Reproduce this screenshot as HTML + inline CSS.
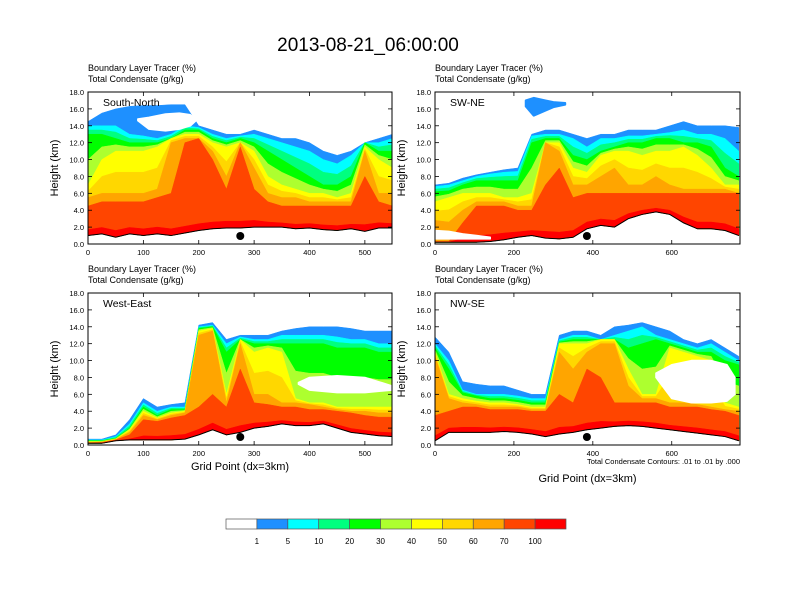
<!DOCTYPE html>
<html><head><meta charset="utf-8">
<style>
html,body{margin:0;padding:0;background:#fff;}
svg{display:block;font-family:"Liberation Sans",sans-serif;}
</style></head>
<body>
<svg id="fig" width="792" height="612" viewBox="0 0 792 612" xmlns="http://www.w3.org/2000/svg">
<text x="368" y="51" font-size="19" text-anchor="middle">2013-08-21_06:00:00</text>
</svg>
<script>
// ---------- Panel 1: South-North ----------
const p1X = [0,25,50,75,100,125,150,175,200,225,250,275,300,325,350,375,400,425,450,475,500,525,550];
const p1Ground = [1.0,1.2,0.8,1.2,1.0,1.2,1.0,1.3,1.6,1.8,1.9,1.9,2.0,2.0,2.0,1.8,1.9,1.7,1.6,1.8,1.5,1.9,1.9];
const p1Blue   = [14.5,15.5,16.0,16.3,16.4,16.4,16.5,16.5,14.0,13.5,13.0,13.0,13.5,13.0,12.5,12.5,12.0,11.0,10.5,11.0,12.0,12.5,13.0];
const p1Cyan   = [14,14,14,13,12.8,12.5,13.0,14.0,13.8,13,12.5,12.8,13,12.5,12,11.5,11,10,9.5,10.5,12,12,12.5];
const p1Green  = [13,13,12.5,12,12,12,12.5,13.5,13.5,12.5,12,12.5,12,11,10,9,8,7,7,8,12,11,11];
const p1Yellow = [7,10,11,11,11,11.5,12.5,13,13,12,11.5,12,11,8,7,6.5,6,6,5.5,6,11.5,10,9];
const p1Orange = [5.5,6,6,6,6,6.5,12,12.5,12.5,11,8,12,9,6,5.5,5.5,5,5,5,5,11,6,6];
const p1Red    = [4.5,5,5,5,5,5.5,6,12,12.5,10,6.5,11.5,6.5,5,4.5,4.5,4.5,4.5,4.5,4.5,8,5,4.5];
const p1HoleX = [90,110,140,165,185,195];
const p1HoleBot = [14.6,13.6,13.4,13.6,14.0,14.6];
const p1HoleTop = [14.8,15.0,15.4,15.5,15.3,14.8];

// ---------- Panel 2: SW-NE ----------
const p2X = [0,35,70,105,140,175,210,245,280,315,350,385,420,455,490,525,560,595,630,665,700,735,770];
const p2Ground = [0.2,0.2,0.2,0.2,0.3,0.5,0.8,1.0,0.7,0.6,0.8,1.8,2.2,2.0,3.0,3.5,3.8,3.5,2.5,1.8,1.8,1.6,1.0];
const p2Blue   = [7,7.2,7.8,8.2,8.5,8.8,9.0,13,13.5,13.5,13.0,12.5,13,13,13.5,13.5,13.5,14,14.5,14,14,14,13.8];
const p2Cyan   = [6.8,7,7.5,8,8.3,8.5,8.6,12.8,13,13,12.5,11.5,12.5,12.5,12.8,12.8,13,13.2,13.5,13,13,12.5,11];
const p2Green  = [6.2,6.3,7,7.5,7.5,7.5,7.5,12,12.5,12.5,10.5,10,11,11.5,12,12,12.5,12.5,12,12,11.5,9,8];
const p2Yellow = [5,5.5,6,6,6,5.5,5.5,6,12,12,9,8.5,10.5,11,11,10.5,11,11,11.5,10.5,9,7,7];
const p2Orange = [2.8,2.6,4,5,5,5,4.5,4.5,12,11,7,7,8,9,7,7,8,7,6.5,6.5,6.5,6.5,6];
const p2Red    = [0.3,0.3,2.5,4.5,4.5,4.5,4,4,7,9,5.5,6,6,6,6,6,6,6,6,6,6,6,6];
const p2HoleX = [0,35,70,105,140];
const p2HoleBot = [0.6,0.6,0.6,0.6,0.6];
const p2HoleTop = [1.6,1.5,1.2,1.0,0.8];
const p2AnvilX = [230,250,280,300,330];
const p2AnvilBot = [16.3,15.2,15.8,16.2,16.5];
const p2AnvilTop = [17.0,17.3,17.0,16.8,16.7];

// ---------- Panel 3: West-East ----------
const p3X = [0,25,50,75,100,125,150,175,200,225,250,275,300,325,350,375,400,425,450,475,500,525,550];
const p3Ground = [0.2,0.2,0.5,0.6,0.6,0.6,0.6,0.7,1.2,1.8,1.2,1.5,2.0,2.2,2.5,2.3,2.3,2.5,2.0,1.5,1.3,1.1,1.0];
const p3Blue   = [0.7,0.7,1.2,3.0,5.5,4.5,4.8,5.0,14.2,14.5,12.5,13.0,13.0,13.0,13.5,13.8,14.0,14.0,14.0,13.8,13.5,13.5,13.5];
const p3Cyan   = [0.6,0.6,1.0,2.5,5,4,4.5,4.5,14,14.2,12,12.8,12.5,12.5,13,13,13,13,12.8,12.5,12.5,12,12];
const p3Green  = [0.5,0.5,0.8,2,4.5,3.5,4.2,4.2,13.8,14,11,12.5,12,12,12,12,12,12,11.5,11.5,11.5,11,11];
const p3Yellow = [0.4,0.4,0.7,1.8,4,3.2,3.8,4,13.5,13.8,6,12.5,11,11.5,11,5.5,5,5,4.5,4.5,4.5,4.5,4.5];
const p3Orange = [0.3,0.35,0.65,1.5,3.5,3,3.5,3.8,13,13.5,5,12,6,6,5,5,4.8,4.5,4.2,4,4,3.8,3.8];
const p3Red    = [0.25,0.3,0.6,1.2,3.0,2.8,3.2,3.5,4.5,6,4.5,9,5,4.8,4.5,4.5,4.2,4.2,4,3.8,3.5,3.3,3.3];
const p3HoleX = [380,400,450,500,549];
const p3HoleBot = [7.2,6.5,6.2,6.2,6.5];
const p3HoleTop = [7.4,8.0,8.2,8.0,7.0];

// ---------- Panel 4: NW-SE ----------
const p4X = [0,35,70,105,140,175,210,245,280,315,350,385,420,455,490,525,560,595,630,665,700,735,770];
const p4Ground = [0.5,1.5,1.5,1.5,1.5,1.6,1.5,1.3,1.0,1.3,1.5,1.8,2.0,2.2,2.3,2.2,2.0,1.8,1.6,1.4,1.2,1.0,0.5];
const p4Blue   = [12.8,11.0,7.5,7.2,7,7,6.5,6,6,13,13.5,13.5,13,14,14.2,14.5,14,13.5,12.5,12,12.5,11.5,10.5];
const p4Cyan   = [12,10.0,6.5,6,6,6,5.8,5.5,5.5,12.5,13,13,12.5,13,13.5,14,13,12.5,12,11.5,12,11,10];
const p4Green  = [11.5,9.0,6.2,5.8,5.5,5.5,5.3,5,5,12.2,12.5,12.5,12.5,12.5,11.5,12,12.5,12,11.5,11,11,10,9.5];
const p4Yellow = [11,6,5.5,5.2,5,5,4.8,4.5,4.5,12,12,12,12.5,12.5,9,6,6,11.5,11,10.5,10,5,4.5];
const p4Orange = [10.5,5.5,5,4.8,4.5,4.5,4.5,4.2,4.2,11,9,11,12,12,7,5.5,5.5,5,5,4.8,4.5,4.2,4];
const p4Red    = [3.5,4,4.5,4.5,4.2,4.2,4.2,4,4,6,5,9,8,5,5,5,5,4.5,4.5,4.5,4.2,4,3.5];
const p4HoleX = [560,600,650,700,740,760];
const p4HoleBot = [8,5.5,5,5,5.2,6];
const p4HoleTop = [8.5,9.5,10,10,9.5,8];

// ---------- Colorbar ----------
const cbLabels = ["1","5","10","20","30","40","50","60","70","100"];
const cbColors = ["#FFFFFF","#1E90FF","#00FFFF","#00FF7F","#00FF00","#ADFF2F","#FFFF00","#FFD700","#FFA500","#FF4500","#FF0000"];
const yTicks = [0,2,4,6,8,10,12,14,16,18];
const xTicksA = [0,100,200,300,400,500];
const xTicksB = [0,200,400,600];

const NS = "http://www.w3.org/2000/svg";
const svg = document.getElementById("fig");
function mk(tag, attrs, parent){
  const e = document.createElementNS(NS, tag);
  for (const k in attrs) e.setAttribute(k, attrs[k]);
  (parent||svg).appendChild(e);
  return e;
}

const panels = [
  {name:"south-north", label:"South-North", x0:88, y0:92, w:304, h:152, xmax:549, ticks:xTicksA,
   X:p1X, G:p1Ground, B:p1Blue, C:p1Cyan, Gr:p1Green, Y:p1Yellow, O:p1Orange, R:p1Red, HX:p1HoleX, HB:p1HoleBot, HT:p1HoleTop, dot:275, xt:false},
  {name:"sw-ne", label:"SW-NE", x0:435, y0:92, w:305, h:152, xmax:773, ticks:xTicksB,
   X:p2X, G:p2Ground, B:p2Blue, C:p2Cyan, Gr:p2Green, Y:p2Yellow, O:p2Orange, R:p2Red, HX:p2HoleX, HB:p2HoleBot, HT:p2HoleTop, dot:385, xt:false,
   AX:p2AnvilX, AB:p2AnvilBot, AT:p2AnvilTop},
  {name:"west-east", label:"West-East", x0:88, y0:293, w:304, h:152, xmax:549, ticks:xTicksA,
   X:p3X, G:p3Ground, B:p3Blue, C:p3Cyan, Gr:p3Green, Y:p3Yellow, O:p3Orange, R:p3Red, HX:p3HoleX, HB:p3HoleBot, HT:p3HoleTop, dot:275, xt:true},
  {name:"nw-se", label:"NW-SE", x0:435, y0:293, w:305, h:152, xmax:773, ticks:xTicksB,
   X:p4X, G:p4Ground, B:p4Blue, C:p4Cyan, Gr:p4Green, Y:p4Yellow, O:p4Orange, R:p4Red, HX:p4HoleX, HB:p4HoleBot, HT:p4HoleTop, dot:385, xt:true},
];

panels.forEach((p, pi) => {
  const g = mk("g", {});
  
  
  const sx = v => p.x0 + v / p.xmax * p.w;
  const sy = v => p.y0 + p.h - v / 18 * p.h;
  const clipId = "clip" + pi;
  const cp = mk("clipPath", {id: clipId}, g);
  mk("rect", {x:p.x0, y:p.y0, width:p.w, height:p.h}, cp);
  const area = mk("g", {"clip-path":"url(#" + clipId + ")"}, g);
  
  

  function band(tops, color, nm){
    let d = "M" + sx(p.X[0]) + "," + sy(p.G[0]);
    for (let i = 0; i < p.X.length; i++) d += " L" + sx(p.X[i]) + "," + sy(Math.max(tops[i], p.G[i]));
    for (let i = p.X.length - 1; i >= 0; i--) d += " L" + sx(p.X[i]) + "," + sy(p.G[i]);
    const el = mk("path", {d: d + "Z", fill: color, stroke: color, "stroke-width": 0.5, "stroke-linejoin":"round"}, area);
    
    
  }
  const mid = (a, b) => a.map((v, i) => (v + b[i]) / 2);
  const deep = p.G.map((v, i) => v + Math.min(0.8, (p.R[i] - v) * 0.2));
  band(p.B, "#1E90FF", "band-1-5");
  band(p.C, "#00FFFF", "band-5-10");
  band(mid(p.C, p.Gr), "#00FF7F", "band-10-20");
  band(p.Gr, "#00FF00", "band-20-30");
  band(mid(p.Gr, p.Y), "#ADFF2F", "band-30-40");
  band(p.Y, "#FFFF00", "band-40-50");
  band(mid(p.Y, p.O), "#FFD700", "band-50-60");
  band(p.O, "#FFA500", "band-60-70");
  band(p.R, "#FF4500", "band-70-100");
  band(deep, "#FF0000", "band-100");

  if (p.HX.length) {
    let d = "M" + sx(p.HX[0]) + "," + sy(p.HB[0]);
    for (let i = 1; i < p.HX.length; i++) d += " L" + sx(p.HX[i]) + "," + sy(p.HB[i]);
    for (let i = p.HX.length - 1; i >= 0; i--) d += " L" + sx(p.HX[i]) + "," + sy(p.HT[i]);
    const hole = mk("path", {d: d + "Z", fill: "#fff", stroke:"#fff", "stroke-width":1.5, "stroke-linejoin":"round"}, area);
    
    
  }
  if (p.AX) {
    let d = "M" + sx(p.AX[0]) + "," + sy(p.AB[0]);
    for (let i = 1; i < p.AX.length; i++) d += " L" + sx(p.AX[i]) + "," + sy(p.AB[i]);
    for (let i = p.AX.length - 1; i >= 0; i--) d += " L" + sx(p.AX[i]) + "," + sy(p.AT[i]);
    const an = mk("path", {d: d + "Z", fill: "#1E90FF", stroke:"#1E90FF", "stroke-width":2, "stroke-linejoin":"round"}, area);
    
    
  }
  let td = "";
  for (let i = 0; i < p.X.length; i++) td += (i ? " L" : "M") + sx(p.X[i]) + "," + sy(p.G[i]);
  const terr = mk("path", {d: td, fill: "none", stroke: "#000", "stroke-width": 1}, area);
  
  

  const dot = mk("circle", {cx: sx(p.dot), cy: p.y0 + p.h - 8, r: 4, fill: "#000"}, g);
  
  

  const fr = mk("rect", {x:p.x0, y:p.y0, width:p.w, height:p.h, fill:"none", stroke:"#000", "stroke-width":1}, g);
  
  

  yTicks.forEach(t => {
    const y = sy(t);
    mk("line", {x1:p.x0, x2:p.x0+4, y1:y, y2:y, stroke:"#000", "stroke-width":0.8}, g);
    mk("line", {x1:p.x0+p.w, x2:p.x0+p.w-4, y1:y, y2:y, stroke:"#000", "stroke-width":0.8}, g);
    const tl = mk("text", {x:p.x0-4, y:y+3, "font-size":7.5, "text-anchor":"end"}, g);
    tl.textContent = t.toFixed(1);
    
    
  });
  p.ticks.forEach(t => {
    const x = sx(t);
    mk("line", {x1:x, x2:x, y1:p.y0+p.h, y2:p.y0+p.h-4, stroke:"#000", "stroke-width":0.8}, g);
    mk("line", {x1:x, x2:x, y1:p.y0, y2:p.y0+4, stroke:"#000", "stroke-width":0.8}, g);
    const tl = mk("text", {x:x, y:p.y0+p.h+11, "font-size":7.5, "text-anchor":"middle"}, g);
    tl.textContent = t;
    
    
  });
  const yt = mk("text", {x:0, y:0, "font-size":11, "text-anchor":"middle", transform:"translate(" + (p.x0-30) + "," + (p.y0+p.h/2) + ") rotate(-90)"}, g);
  yt.textContent = "Height (km)";
  
  
  const h1 = mk("text", {x:p.x0, y:p.y0-21, "font-size":9}, g);
  h1.textContent = "Boundary Layer Tracer   (%)";
  
  
  const h2 = mk("text", {x:p.x0, y:p.y0-10, "font-size":9}, g);
  h2.textContent = "Total Condensate   (g/kg)";
  
  
  const pl = mk("text", {x:p.x0+15, y:p.y0+14, "font-size":10.5}, g);
  pl.textContent = p.label;
  
  
  if (p.xt) {
    const xt = mk("text", {x:p.x0+p.w/2, y: pi === 3 ? p.y0+p.h+37 : p.y0+p.h+25, "font-size":11, "text-anchor":"middle"}, g);
    xt.textContent = "Grid Point (dx=3km)";
    
    
  }
  if (pi === 3) {
    const ct = mk("text", {x:p.x0+p.w, y:p.y0+p.h+19, "font-size":7.5, "text-anchor":"end"}, g);
    ct.textContent = "Total Condensate Contours: .01 to .01 by .000";
    
    
  }
});

const cb = mk("g", {});


const cbX0 = 226, cbW = 340, cbY = 519, cbH = 10;
const bw = cbW / cbColors.length;
cbColors.forEach((c, i) => {
  const r = mk("rect", {x:cbX0 + i*bw, y:cbY, width:bw, height:cbH, fill:c, stroke:"#555", "stroke-width":0.7}, cb);
  
  
});
cbLabels.forEach((l, i) => {
  const t = mk("text", {x:cbX0 + (i+1)*bw, y:cbY+cbH+15, "font-size":8, "text-anchor":"middle"}, cb);
  t.textContent = l;
  
  
});
</script>
</body></html>
